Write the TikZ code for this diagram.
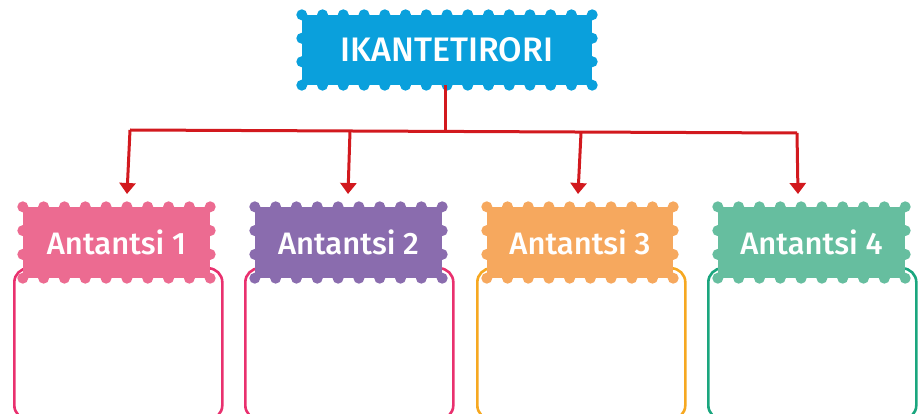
\documentclass[tikz,border=0pt]{standalone}
\usepackage{fontspec}
\setmainfont{Fira Sans}
\newfontfamily\medfont{Fira Sans Medium}
\usetikzlibrary{arrows.meta,calc}
\definecolor{topblue}{HTML}{0AA0DC}
\definecolor{pinkfill}{HTML}{EC6B91}
\definecolor{purplefill}{HTML}{8A6CAE}
\definecolor{orangefill}{HTML}{F6A85E}
\definecolor{greenfill}{HTML}{66BE9F}
\definecolor{pinkline}{HTML}{E9306E}
\definecolor{orangeline}{HTML}{F6A821}
\definecolor{greenline}{HTML}{1AA67E}
\definecolor{arrowred}{HTML}{D2191E}
\newcommand\stampdots[4]{%
  \foreach \i in {0,...,#2}{%
    \fill[#4] ($(#1.north west)!\i/#2!(#1.north east)$) circle (5.5pt);
    \fill[#4] ($(#1.south west)!\i/#2!(#1.south east)$) circle (5.5pt);
  }%
  \foreach \j in {1,...,#3}{%
    \fill[#4] ($(#1.north west)!\j/(#3+1)!(#1.south west)$) circle (5.5pt);
    \fill[#4] ($(#1.north east)!\j/(#3+1)!(#1.south east)$) circle (5.5pt);
  }%
}
\begin{document}
\begin{tikzpicture}[x=1pt,y=-1pt,
  stampbox/.style={inner sep=0pt, text=white, font=\medfont\fontsize{31}{31}\selectfont},
  outlinebox/.style={draw, line width=2.6pt, rounded corners=14pt, inner sep=0pt, anchor=north west, minimum width=208pt, minimum height=151pt},
  connector/.style={draw=arrowred, line width=3pt},
  arrowline/.style={connector, -{Triangle[width=16pt,length=11pt]}}]
\useasboundingbox (0,0) rectangle (918,414);

% outline boxes
\node[outlinebox, draw=pinkline] (o1) at (13,267) {};
\node[outlinebox, draw=pinkline] (o2) at (244,267) {};
\node[outlinebox, draw=orangeline] (o3) at (476,267) {};
\node[outlinebox, draw=greenline] (o4) at (707,267) {};

% top stamp
\node[stampbox, fill=topblue, minimum width=290pt, minimum height=70pt, font=\medfont\fontsize{34}{34}\selectfont] (s0) at (447,50) {IKANTETIRORI};
\stampdots{s0}{14}{2}{topblue}

% lower stamps
\node[stampbox, fill=pinkfill, minimum width=187pt, minimum height=71pt] (s1) at (116.5,242.5) {Antantsi 1};
\stampdots{s1}{9}{2}{pinkfill}
\node[stampbox, fill=purplefill, minimum width=187pt, minimum height=71pt] (s2) at (348.5,242.5) {Antantsi 2};
\stampdots{s2}{9}{2}{purplefill}
\node[stampbox, fill=orangefill, minimum width=186pt, minimum height=71pt] (s3) at (580,242.5) {Antantsi 3};
\stampdots{s3}{9}{2}{orangefill}
\node[stampbox, fill=greenfill, minimum width=187pt, minimum height=71pt] (s4) at (811.5,242.5) {Antantsi 4};
\stampdots{s4}{9}{2}{greenfill}

% connectors
\coordinate (j0) at (445,132);
\coordinate (c1) at (130,130);
\coordinate (c2) at (350,131);
\coordinate (c3) at (581,133);
\coordinate (c4) at (797,133);
\coordinate (e1) at (127,194);
\coordinate (e2) at (348,194);
\coordinate (e3) at (578,194);
\coordinate (e4) at (798,194);
\draw[connector] (s0.south -| j0) -- (j0);
\draw[connector] (c1) -- (c4);
\draw[arrowline] (c1) -- (e1);
\draw[arrowline] (c2) -- (e2);
\draw[arrowline] (c3) -- (e3);
\draw[arrowline] (c4) -- (e4);
\end{tikzpicture}
\end{document}
